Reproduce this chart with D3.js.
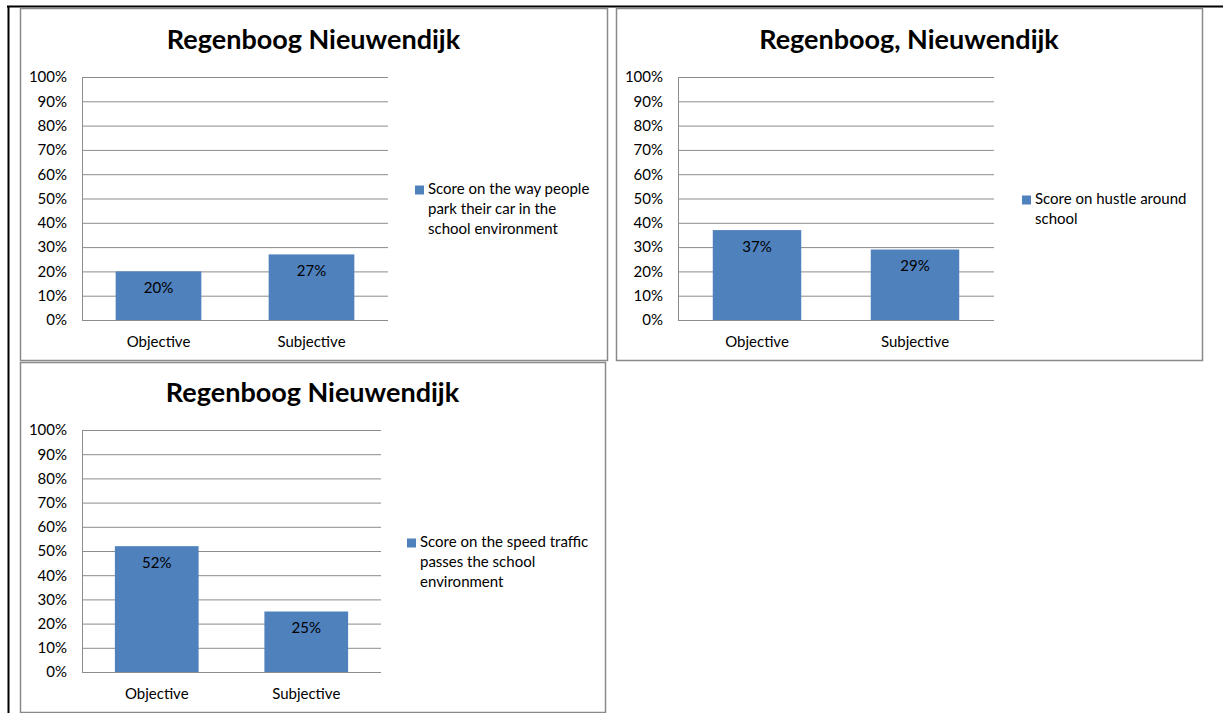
<!DOCTYPE html>
<html>
<head>
<meta charset="utf-8">
<script src="https://cdn.jsdelivr.net/npm/d3@7"></script>
<style>
  body { margin: 0; background: #fff; }
  svg { display: block; font-family: Lato, "Open Sans", sans-serif; }
</style>
</head>
<body>
<svg width="1223" height="713"></svg>
<script>
// chart values
const categories = ["Objective", "Subjective"];
const titles = ["Regenboog Nieuwendijk", "Regenboog, Nieuwendijk", "Regenboog Nieuwendijk"];
const legendLines = [
  ["Score on the way people", "park their car in the", "school environment"],
  ["Score on hustle around", "school"],
  ["Score on the speed traffic", "passes the school", "environment"]
];
const parkingScores = [20, 27];
const hustleScores = [37, 29];
const speedScores = [52, 25];
const yTicks = [0, 10, 20, 30, 40, 50, 60, 70, 80, 90, 100];

const series = [parkingScores, hustleScores, speedScores];

// where each chart sits on the page
const layout = [
  {box: [20, 8, 607, 360], plot: [82, 77, 388, 320], titleY: 49, legend: [415, 190]},
  {box: [616, 8, 1202, 360], plot: [678, 77, 994, 320], titleY: 49, legend: [1022, 200]},
  {box: [20, 362, 605, 712], plot: [82, 430, 381, 672], titleY: 402, legend: [407, 543]}
];

const svg = d3.select("svg");
const barColor = "#4f81bd";
const gridColor = "#8c8c8c";
const fs = 15;

// page frame lines
svg.append("line").attr("x1", 7).attr("x2", 1223).attr("y1", 6.5).attr("y2", 6.5)
  .attr("stroke", "#000").attr("stroke-width", 2);
svg.append("line").attr("x1", 8.5).attr("x2", 8.5).attr("y1", 6).attr("y2", 713)
  .attr("stroke", "#000").attr("stroke-width", 2);

const drawChart = (values, i) => {
  const L = layout[i];
  const [bx0, by0, bx1, by1] = L.box;
  const [left, top, right, bottom] = L.plot;

  svg.append("rect")
    .attr("x", bx0 + 0.5).attr("y", by0 + 0.5)
    .attr("width", bx1 - bx0).attr("height", by1 - by0)
    .attr("fill", "#fff").attr("stroke", "#8a8a8a").attr("stroke-width", 1.5);

  const xScale = d3.scaleBand()
    .domain(categories)
    .range([left, right])
    .paddingInner(0.44)
    .paddingOuter(0.22);

  const yScale = d3.scaleLinear()
    .domain([0, 100])
    .range([bottom, top]);

  const g = svg.append("g");

  // gridlines
  g.append("g")
    .attr("transform", `translate(${left},0)`)
    .call(d3.axisLeft(yScale).tickValues(yTicks).tickSize(-(right - left)).tickFormat(""))
    .call(s => s.select(".domain").remove())
    .selectAll("line").attr("stroke", gridColor);

  // y axis
  g.append("g")
    .attr("transform", `translate(${left},0)`)
    .call(d3.axisLeft(yScale).tickValues(yTicks).tickSize(0).tickPadding(15).tickFormat(d => d + "%"))
    .call(s => s.select(".domain").attr("stroke", gridColor))
    .selectAll("text")
      .attr("font-family", "Lato, sans-serif")
      .attr("font-size", fs)
      .attr("fill", "#000");

  // bars
  g.selectAll("rect.bar").data(values)
    .enter().append("rect")
      .attr("class", "bar")
      .attr("x", (d, j) => xScale(categories[j]))
      .attr("y", d => yScale(d))
      .attr("width", xScale.bandwidth())
      .attr("height", d => bottom - yScale(d))
      .attr("fill", barColor);

  // x axis
  g.append("g")
    .attr("transform", `translate(0,${bottom})`)
    .call(d3.axisBottom(xScale).tickSize(0).tickPadding(16))
    .call(s => s.select(".domain").attr("stroke", gridColor).attr("d", `M${left},0.5H${right}`))
    .selectAll("text")
      .attr("font-family", "Lato, sans-serif")
      .attr("font-size", fs)
      .attr("fill", "#000");

  // value labels
  g.selectAll("text.val").data(values)
    .enter().append("text")
      .attr("class", "val")
      .attr("x", (d, j) => xScale(categories[j]) + xScale.bandwidth() / 2)
      .attr("y", d => yScale(d) + 18)
      .attr("text-anchor", "middle")
      .attr("dominant-baseline", "middle")
      .attr("font-size", fs)
      .text(d => d + "%");

  // title
  svg.append("text")
    .attr("x", (bx0 + bx1) / 2)
    .attr("y", L.titleY)
    .attr("text-anchor", "middle")
    .attr("font-size", 27)
    .attr("font-weight", "bold")
    .text(titles[i]);

  // legend
  const [lx, ly] = L.legend;
  svg.append("rect")
    .attr("x", lx).attr("y", ly - 4.5)
    .attr("width", 9).attr("height", 9)
    .attr("fill", barColor);
  svg.append("g").selectAll("text").data(legendLines[i])
    .enter().append("text")
      .attr("x", lx + 13)
      .attr("y", (d, k) => ly + k * 20)
      .attr("dominant-baseline", "middle")
      .attr("font-size", fs)
      .text(d => d);
};

series.forEach(drawChart);
</script>
</body>
</html>
